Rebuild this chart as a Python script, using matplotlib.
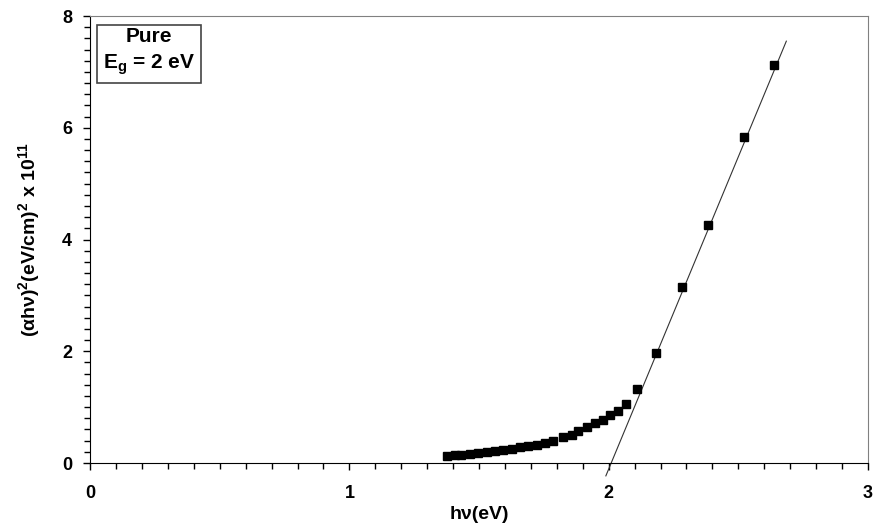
import numpy as np
import matplotlib
matplotlib.use('Agg')
import matplotlib.pyplot as plt
from matplotlib.ticker import MultipleLocator

plt.rcParams['font.family'] = ['Liberation Sans', 'DejaVu Sans']
plt.rcParams['mathtext.fontset'] = 'custom'
plt.rcParams['mathtext.rm'] = 'Liberation Sans:bold'
plt.rcParams['mathtext.it'] = 'Liberation Sans:bold'
plt.rcParams['mathtext.bf'] = 'Liberation Sans:bold'

# measured points (photon energy, (alpha h nu)^2 x 1e-11)
hv = [1.376, 1.408, 1.432, 1.465, 1.497, 1.530, 1.562, 1.594, 1.626, 1.658,
      1.690, 1.722, 1.755, 1.787, 1.825, 1.857, 1.883, 1.915, 1.947, 1.979,
      2.005, 2.036, 2.066, 2.109, 2.183, 2.283, 2.383, 2.522, 2.638]
ahv2 = [0.12, 0.14, 0.15, 0.16, 0.18, 0.20, 0.21, 0.23, 0.25, 0.28,
        0.30, 0.33, 0.36, 0.40, 0.47, 0.51, 0.57, 0.64, 0.71, 0.77,
        0.86, 0.93, 1.06, 1.32, 1.97, 3.15, 4.26, 5.83, 7.12]

# linear extrapolation line (end points)
fit_x = [1.989, 2.685]
fit_y = [-0.23, 7.55]

fig = plt.figure(figsize=(8.75, 5.27), dpi=100)
ax = fig.add_axes([0.103, 0.1214, 0.889, 0.8482])

ax.plot(fit_x, fit_y, color='#333333', linewidth=0.8, clip_on=False, zorder=2)
ax.plot(hv, ahv2, linestyle='none', marker='s', markersize=5.5,
        color='black', zorder=3)

ax.set_xlim(0, 3)
ax.set_ylim(0, 8)
ax.xaxis.set_major_locator(MultipleLocator(1))
ax.xaxis.set_minor_locator(MultipleLocator(0.1))
ax.yaxis.set_major_locator(MultipleLocator(2))
ax.yaxis.set_minor_locator(MultipleLocator(0.2))
ax.tick_params(which='both', direction='out', width=1, labelsize=13)
ax.tick_params(which='major', length=5)
ax.tick_params(which='minor', length=4)
ax.tick_params(axis='x', which='major', pad=11)
ax.tick_params(axis='y', which='major', pad=8)
for lab in ax.get_xticklabels() + ax.get_yticklabels():
    lab.set_fontweight('bold')

ax.spines['top'].set_color('#808080')
ax.spines['right'].set_color('#808080')

ax.set_xlabel('hν(eV)', fontsize=14, fontweight='bold', labelpad=3)
ax.set_ylabel(r'(αhν)$^{2}$(eV/cm)$^{2}$ x 10$^{11}$',
              fontsize=14, fontweight='bold', labelpad=14)

ax.text(0.0758, 0.976, 'Pure\n' + r'E$_{g}$ = 2 eV', transform=ax.transAxes,
        fontsize=15, fontweight='bold', ha='center', va='top', linespacing=1.4,
        bbox=dict(boxstyle='square,pad=0.3', facecolor='white',
                  edgecolor='#444444', linewidth=1.2))

plt.savefig('out.png', dpi=100)
plt.close()
